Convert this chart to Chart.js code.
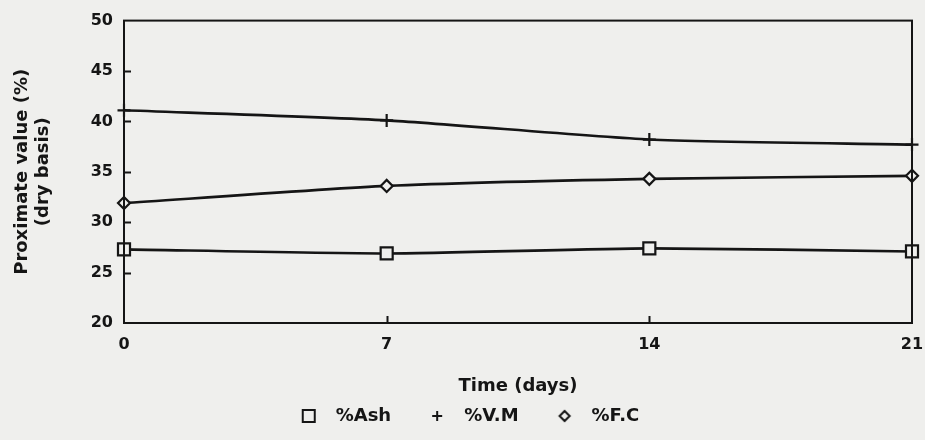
<!DOCTYPE html>
<html>
<head>
<meta charset="utf-8">
<script src="https://cdn.jsdelivr.net/npm/chart.js@4.4.1/dist/chart.umd.min.js"></script>
<style>
  html, body { margin: 0; padding: 0; background: #efefed; }
  #wrap { width: 925px; height: 440px; }
</style>
</head>
<body>
<div id="wrap"><canvas id="proxChart" width="925" height="440"></canvas></div>
<script>
// Proximate analysis over storage time
var days = [0, 7, 14, 21];
var ash = [27.3, 26.9, 27.4, 27.1];
var volatile = [41.1, 40.1, 38.2, 37.7];
var fixedCarbon = [31.9, 33.6, 34.3, 34.6];
var seriesNames = ['%Ash', '%V.M', '%F.C'];
var yTicks = [20, 25, 30, 35, 40, 45, 50];

var INK = '#151515';
var PAPER = '#efefed';
var FONT = 'DejaVu Sans';

function toPoints(values) {
    return values.map(function (v, i) { return { x: days[i], y: v }; });
}

// small canvases used as legend symbols (extra width gives the spacing)
function legendSymbol(kind) {
    var c = document.createElement('canvas');
    c.width = 54; c.height = 18;
    var g = c.getContext('2d');
    g.strokeStyle = INK;
    g.lineWidth = 2;
    var cx = 36, cy = 9;
    if (kind === 'rect') {
        g.strokeRect(cx - 6, cy - 6, 12, 12);
    } else if (kind === 'cross') {
        g.beginPath();
        g.moveTo(cx - 5, cy); g.lineTo(cx + 5, cy);
        g.moveTo(cx, cy - 5); g.lineTo(cx, cy + 5);
        g.stroke();
    } else {
        g.beginPath();
        g.moveTo(cx, cy - 5); g.lineTo(cx + 5, cy); g.lineTo(cx, cy + 5); g.lineTo(cx - 5, cy);
        g.closePath();
        g.stroke();
    }
    return c;
}
var symbols = [legendSymbol('rect'), legendSymbol('cross'), legendSymbol('diamond')];

// frame around the plot and inward tick marks
var framePlugin = {
    id: 'frame',
    afterDraw: function (chart) {
        var ctx = chart.ctx, a = chart.chartArea;
        var xs = chart.scales.x, ys = chart.scales.y;
        ctx.save();
        ctx.strokeStyle = INK;
        ctx.lineWidth = 2;
        ctx.strokeRect(a.left, a.top, a.right - a.left, a.bottom - a.top);
        ctx.beginPath();
        ys.ticks.forEach(function (t) {
            if (t.value === ys.min || t.value === ys.max) return;
            var py = Math.round(ys.getPixelForValue(t.value)) + 0.5;
            ctx.moveTo(a.left, py); ctx.lineTo(a.left + 7, py);
        });
        xs.ticks.forEach(function (t) {
            if (t.value === xs.min || t.value === xs.max) return;
            var px = Math.round(xs.getPixelForValue(t.value)) + 0.5;
            ctx.moveTo(px, a.bottom); ctx.lineTo(px, a.bottom - 7);
        });
        ctx.stroke();
        ctx.restore();
    }
};

function lineSet(label, values, style, radius) {
    return {
        label: label,
        data: toPoints(values),
        borderColor: INK,
        borderWidth: 2.6,
        tension: 0.2,
        pointStyle: style,
        pointRadius: radius,
        pointBorderColor: INK,
        pointBorderWidth: 2.2,
        pointBackgroundColor: PAPER,
        clip: false
    };
}

var ctx = document.getElementById('proxChart').getContext('2d');
var chart = new Chart(ctx, {
    type: 'line',
    data: {
        datasets: [
            lineSet(seriesNames[0], ash, 'rect', 8.5),
            lineSet(seriesNames[1], volatile, 'cross', 6.5),
            lineSet(seriesNames[2], fixedCarbon, 'rectRot', 6)
        ]
    },
    plugins: [framePlugin],
    options: {
        responsive: false,
        animation: false,
        layout: { padding: { top: 19, right: 13, left: 0, bottom: 5 } },
        plugins: {
            tooltip: { enabled: false },
            legend: {
                position: 'bottom',
                labels: {
                    usePointStyle: true,
                    pointStyleWidth: 54,
                    padding: 10,
                    color: INK,
                    font: { family: FONT, size: 18, weight: 'bold' },
                    generateLabels: function (ch) {
                        return ch.data.datasets.map(function (ds, i) {
                            return {
                                text: ds.label,
                                pointStyle: symbols[i],
                                datasetIndex: i,
                                fontColor: INK,
                                fillStyle: PAPER,
                                strokeStyle: INK,
                                lineWidth: 0,
                                hidden: false
                            };
                        });
                    }
                }
            }
        },
        scales: {
            x: {
                type: 'linear',
                min: 0,
                max: 21,
                grid: { display: false, drawTicks: false },
                border: { display: false },
                ticks: {
                    stepSize: 7,
                    padding: 12,
                    color: INK,
                    font: { family: FONT, size: 16, weight: 'bold' }
                },
                title: {
                    display: true,
                    text: 'Time (days)',
                    color: INK,
                    padding: { top: 0, bottom: 0 },
                    font: { family: FONT, size: 18, weight: 'bold' }
                },
                afterFit: function (s) {
                    s.height = 74;
                    s.paddingLeft = 0;
                    s.paddingRight = 0;
                }
            },
            y: {
                min: 20,
                max: 50,
                grid: { display: false, drawTicks: false },
                border: { display: false },
                afterBuildTicks: function (s) {
                    s.ticks = yTicks.map(function (v) { return { value: v }; });
                },
                ticks: {
                    padding: 11,
                    color: INK,
                    font: { family: FONT, size: 16, weight: 'bold' }
                },
                title: {
                    display: true,
                    text: ['Proximate value (%)', '(dry basis)'],
                    color: INK,
                    padding: { top: 12, bottom: 0 },
                    font: { family: FONT, size: 18, weight: 'bold', lineHeight: 1.17 }
                },
                afterFit: function (s) { s.width = 124; }
            }
        }
    }
});
</script>
</body>
</html>
